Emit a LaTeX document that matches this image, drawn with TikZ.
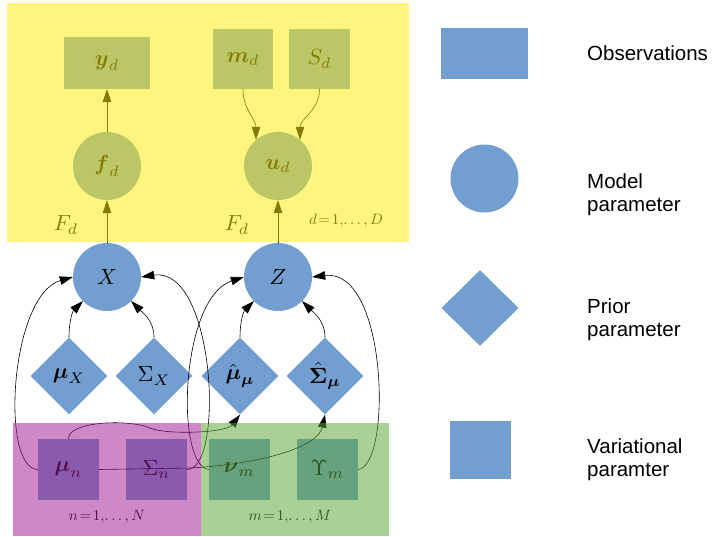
\documentclass[tikz,border=0pt]{standalone}
\usepackage{amsmath}
\usepackage{graphicx}
\usepackage{fontspec}
\setsansfont{Liberation Sans}
\usetikzlibrary{shapes.geometric,arrows.meta}
\definecolor{pblue}{RGB}{114,159,207}
\definecolor{ylw}{RGB}{255,236,8}
\definecolor{pnk}{RGB}{161,27,143}
\definecolor{grn}{RGB}{94,165,53}
\newcommand\mlab[1]{\scalebox{2.2}{$#1$}}
\newcommand\ilab[1]{\scalebox{1.5}{$#1$}}
\tikzset{
  circ/.style={circle, fill=pblue, minimum size=68pt, inner sep=0pt},
  dia/.style={diamond, fill=pblue, minimum width=77pt, minimum height=77pt, inner sep=0pt},
  sqbox/.style={rectangle, fill=pblue, inner sep=0pt, minimum width=61pt, minimum height=61pt},
  arr/.style={-{Triangle[length=13pt,width=8.5pt]}, line width=0.6pt, black},
  lgd/.style={font=\sffamily\fontsize{20.5}{23}\selectfont, anchor=base west, inner sep=0pt},
  plain/.style={inner sep=0pt},
  overlay/.style={fill opacity=0.52}
}
\begin{document}
\begin{tikzpicture}[x=1pt,y=-1pt]
\useasboundingbox (0,0) rectangle (714,536);
% top part
\node[sqbox, minimum width=86pt, minimum height=52pt] (y) at (107,63) {\mlab{\boldsymbol{y}_d}};
\node[sqbox, minimum width=60pt, minimum height=60pt] (m) at (243,59) {\mlab{\boldsymbol{m}_d}};
\node[sqbox, minimum width=61pt, minimum height=60pt] (S) at (319.5,59) {\mlab{S_d}};
\node[circ] (f) at (107,166) {\mlab{\boldsymbol{f}_d}};
\node[circ] (u) at (278,166) {\mlab{\boldsymbol{u}_d}};
\node[plain] (F1) at (66,225) {\mlab{F_d}};
\node[plain] (F2) at (237,225) {\mlab{F_d}};
\node[plain] (dD) at (346,221) {\ilab{d\!=\!1,\!\ldots,D}};
% middle
\node[circ] (X) at (107,277) {\mlab{X}};
\node[circ] (Z) at (278,277) {\mlab{Z}};
\node[dia] (muX) at (69,376) {\mlab{\boldsymbol{\mu}_X}};
\node[dia] (SX) at (154,376) {\mlab{\Sigma_X}};
\node[dia] (muh) at (240,376) {\mlab{\hat{\boldsymbol{\mu}}_{\boldsymbol{\mu}}}};
\node[dia] (Sh) at (325,376) {\mlab{\hat{\boldsymbol{\Sigma}}_{\boldsymbol{\mu}}}};
% bottom
\node[sqbox] (mun) at (68.5,469.5) {\mlab{\boldsymbol{\mu}_n}};
\node[sqbox] (Sn) at (156.5,469.5) {\mlab{\Sigma_n}};
\node[sqbox] (nu) at (239.5,469.5) {\mlab{\boldsymbol{\nu}_m}};
\node[sqbox] (Up) at (327.5,469.5) {\mlab{\Upsilon_m}};
\node[plain] (nN) at (107,517) {\ilab{n\!=\!1,\!\ldots,N}};
\node[plain] (mM) at (290,517) {\ilab{m\!=\!1,\!\ldots,M}};
% arrows in top part
\draw[arr] (f.north) -- (y.south);
\draw[arr] (X.north) -- (f.south);
\draw[arr] (Z.north) -- (u.south);
\draw[arr] (m.south) to[out=-90,in=90] (u.130);
\draw[arr] (S.south) to[out=-90,in=90] (u.50);
% diamonds to circles
\draw[arr] (muX.north) to[out=90,in=225] (X.225);
\draw[arr] (SX.north) to[out=90,in=-45] (X.-45);
\draw[arr] (muh.north) to[out=90,in=225] (Z.225);
\draw[arr] (Sh.north) to[out=90,in=-45] (Z.-45);
% long curves
\draw[arr] (mun.west) .. controls (0,469) and (10,295) .. (X.west);
\draw[arr] (Sn.east) .. controls (225,469) and (215,266) .. (X.east);
\draw[arr] (nu.west) .. controls (175,466) and (180,298) .. (Z.west);
\draw[arr] (Up.east) .. controls (392,466) and (388,268) .. (Z.east);
\draw[arr] (mun.north) .. controls (68,421) and (130,419) .. (150,428) .. controls (166,435) and (226,433) .. (muh.south);
\draw[arr] (mun.east) -- (190,468) .. controls (262,464) and (318,447) .. (Sh.south);
% overlays
\fill[ylw, overlay] (7,3) rectangle (409,242);
\fill[pnk, overlay] (13,423) rectangle (201,536);
\fill[grn, overlay] (201,423) rectangle (389,536);
% legend
\node[sqbox, minimum width=87pt, minimum height=51pt] (lobs) at (484.5,53.5) {};
\node[circle, fill=pblue, minimum size=68pt, inner sep=0pt] (lmod) at (484.5,178.5) {};
\node[diamond, fill=pblue, minimum width=77pt, minimum height=76pt, inner sep=0pt] (lpri) at (480,308) {};
\node[sqbox, minimum width=61pt, minimum height=58pt] (lvar) at (480.5,450) {};
\node[lgd] (t1) at (587,60) {Observations};
\node[lgd] (t2) at (587,188) {Model};
\node[lgd] (t3) at (587,211) {parameter};
\node[lgd] (t4) at (587,313) {Prior};
\node[lgd] (t5) at (587,336) {parameter};
\node[lgd] (t6) at (587,453) {Variational};
\node[lgd] (t7) at (587,476) {paramter};
\end{tikzpicture}
\end{document}
